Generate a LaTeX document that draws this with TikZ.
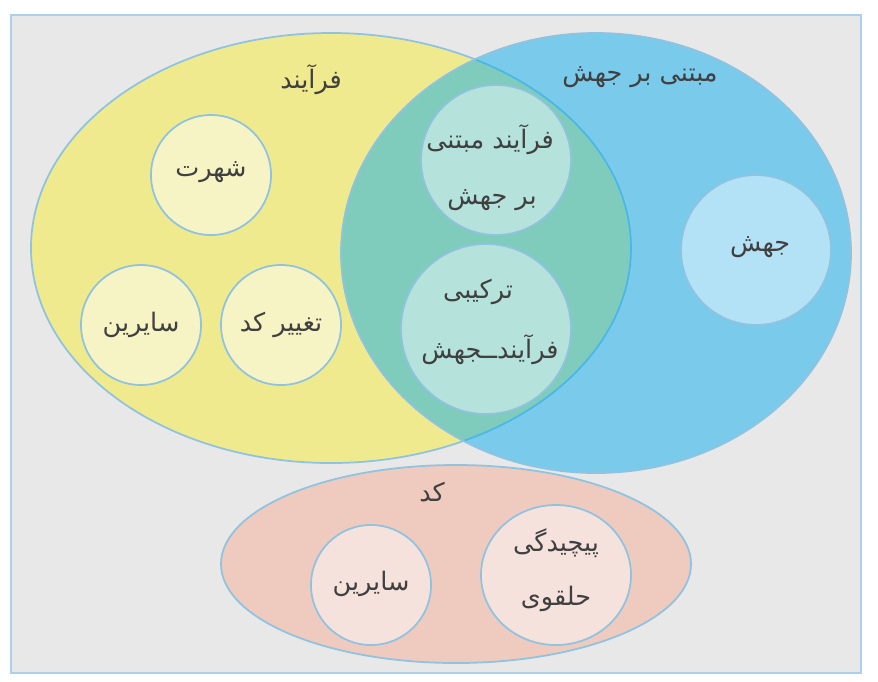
\documentclass[tikz,border=0pt]{standalone}
\usepackage{fontspec}
\usepackage{tikz}
\usepackage{xcolor}
\TeXXeTstate=1
\newfontfamily\farsifont[Script=Arabic]{DejaVu Sans}
\newcommand{\fa}[1]{{\farsifont\beginR #1\endR}}

\definecolor{bggray}{HTML}{E8E8E8}
\definecolor{framebl}{HTML}{A9D0EC}
\definecolor{edgebl}{HTML}{8FC3DF}
\definecolor{setyel}{HTML}{F0EA8F}
\definecolor{setblu}{RGB}{0,170,240}
\definecolor{setpnk}{HTML}{EFCBBF}
\definecolor{inyel}{HTML}{F6F4C4}
\definecolor{inteal}{HTML}{B5E3DB}
\definecolor{inblu}{HTML}{B3E1F5}
\definecolor{inpnk}{HTML}{F6E2DD}
\definecolor{txt}{HTML}{404040}

\tikzset{
  setedge/.style={draw=edgebl, line width=1pt},
  lbl/.style={text=txt, font=\fontsize{14.5}{16}\selectfont, inner sep=0pt, align=center}
}

\begin{document}
\begin{tikzpicture}[x=0.02cm,y=-0.02cm]
\useasboundingbox (0,0) rectangle (878,681);
% Frame
\draw[framebl, line width=1pt, fill=bggray] (11,15) rectangle (861,673);
% Set: process (yellow)
\draw[setedge, fill=setyel] (331,248) ellipse (300 and 215);
% Set: mutation based (blue, see-through)
\fill[setblu, fill opacity=0.47] (596,253) ellipse (255 and 220);
\draw[setedge] (596,253) ellipse (255 and 220);
% Set: code (pink)
\draw[setedge, fill=setpnk] (456,564) ellipse (235 and 99);

% Inner circles
\draw[setedge, fill=inyel] (211,175) circle (60);
\draw[setedge, fill=inyel] (141,325) circle (60);
\draw[setedge, fill=inyel] (281,325) circle (60);
\draw[setedge, fill=inteal] (496,160) circle (75);
\draw[setedge, fill=inteal] (486,329) circle (85);
\draw[setedge, fill=inblu] (756,250) circle (75);
\draw[setedge, fill=inpnk] (371,585) circle (60);
\draw[setedge, fill=inpnk] (556,575) ellipse (75 and 70);

% Set titles
\node[lbl] (process) at (311,80) {\fa{فرآیند}};
\node[lbl] (mutbased) at (640,77) {\fa{مبتنی بر جهش}};
\node[lbl] (code) at (432,492) {\fa{کد}};

% Circle labels
\node[lbl] (fame) at (211,172) {\fa{شهرت}};
\node[lbl] (otherp) at (141,325) {\fa{سایرین}};
\node[lbl] (codechg) at (281,325) {\fa{تغییر کد}};
\node[lbl] (pmbA) at (490,140) {\fa{فرآیند مبتنی}};
\node[lbl] (pmbB) at (492,200) {\fa{بر جهش}};
\node[lbl] (combA) at (478,292) {\fa{ترکیبی}};
\node[lbl] (combB) at (490,350) {\fa{فرآیندــجهش}};
\node[lbl] (mut) at (760,247) {\fa{جهش}};
\node[lbl] (otherc) at (371,584) {\fa{سایرین}};
\node[lbl] (cyclA) at (556,543) {\fa{پیچیدگی}};
\node[lbl] (cyclB) at (556,599) {\fa{حلقوی}};
\end{tikzpicture}
\end{document}
